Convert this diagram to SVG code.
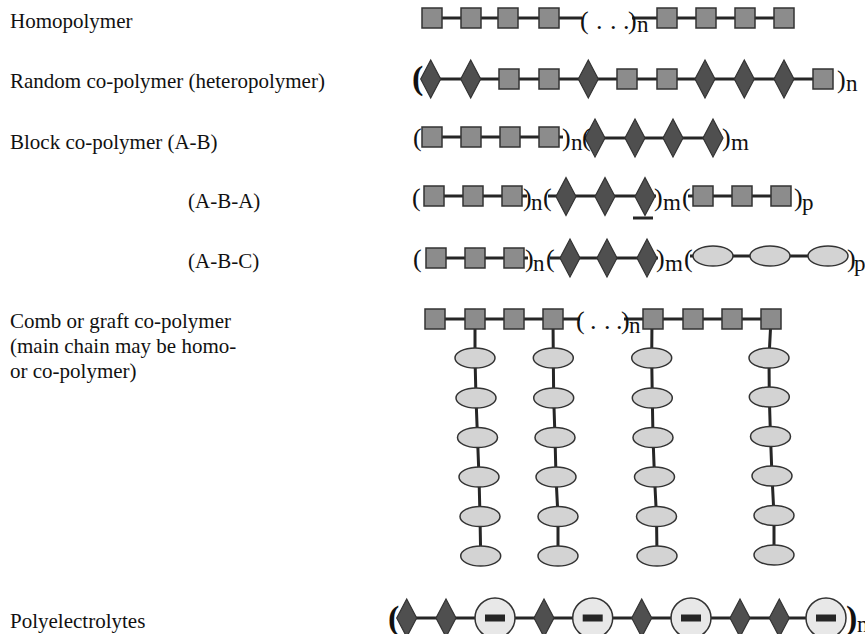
<svg xmlns="http://www.w3.org/2000/svg" width="865" height="634" viewBox="0 0 865 634">
<rect width="865" height="634" fill="#fff"/>

<g id="labels" fill="#111" font-family="Liberation Serif" font-size="21">
<text x="10" y="28" font-family="Liberation Serif" font-size="21">Homopolymer</text>
<text x="10" y="88" font-family="Liberation Serif" font-size="21">Random co-polymer (heteropolymer)</text>
<text x="10" y="149" font-family="Liberation Serif" font-size="21">Block co-polymer (A-B)</text>
<text x="188" y="208" font-family="Liberation Serif" font-size="21">(A-B-A)</text>
<text x="188" y="268" font-family="Liberation Serif" font-size="21">(A-B-C)</text>
<text x="10" y="328" font-family="Liberation Serif" font-size="21">Comb or graft co-polymer</text>
<text x="10" y="353" font-family="Liberation Serif" font-size="21">(main chain may be homo-</text>
<text x="10" y="378" font-family="Liberation Serif" font-size="21">or co-polymer)</text>
<text x="10" y="628" font-family="Liberation Serif" font-size="21">Polyelectrolytes</text>
</g>

<g id="connectors" stroke="#262626" stroke-width="3" fill="none">
<line x1="432" y1="18" x2="582" y2="18"/>
<line x1="632" y1="18" x2="784" y2="18"/>
<line x1="422" y1="79" x2="823" y2="79"/>
<line x1="432" y1="137" x2="563" y2="137"/>
<line x1="585" y1="138" x2="722" y2="138"/>
<line x1="434" y1="196" x2="527" y2="196"/>
<line x1="548" y1="196" x2="656" y2="196"/>
<line x1="688" y1="196" x2="781" y2="196"/>
<line x1="633" y1="218" x2="653" y2="218"/>
<line x1="436" y1="258" x2="528" y2="258"/>
<line x1="550" y1="258" x2="658" y2="258"/>
<line x1="690" y1="256" x2="828" y2="256"/>
<line x1="435" y1="319" x2="580" y2="319"/>
<line x1="624" y1="319" x2="771" y2="319"/>
<polyline points="475,319 475,358 476,398 477.5,437.5 479,477 480,516.5 480.7,556"/>
<polyline points="553,319 553.3,358 553.7,398 555,437.5 556,477 558,516.5 558,556"/>
<polyline points="652,319 651.7,358 652.3,398 653,437.5 654.5,477 656.5,516.5 657,556"/>
<polyline points="771,319 769,358 769.3,397 770.5,436.5 772,476 774,515.5 774,555"/>
<line x1="400" y1="618" x2="826" y2="618"/>
</g>

<g id="homopolymer">
<g fill="#8c8c8c" stroke="#333" stroke-width="1.5">
<rect x="422" y="8" width="20" height="20"/><rect x="461" y="8" width="20" height="20"/><rect x="498" y="8" width="20" height="20"/><rect x="539" y="8" width="20" height="20"/>
<rect x="657" y="8" width="20" height="20"/><rect x="696" y="8" width="20" height="20"/><rect x="735" y="8" width="20" height="20"/><rect x="774" y="8" width="20" height="20"/>
</g>
<g fill="#111">
<text x="580" y="29" font-family="Liberation Serif" font-size="26">(</text>
<text x="596" y="29" font-family="Liberation Serif" font-size="26">.</text>
<text x="610" y="29" font-family="Liberation Serif" font-size="26">.</text>
<text x="623" y="29" font-family="Liberation Serif" font-size="26">.</text>
<text x="628" y="29" font-family="Liberation Serif" font-size="26">)</text>
<text x="637" y="32" font-family="Liberation Serif" font-size="23">n</text>
</g>
</g>

<g id="random">
<g fill="#4f4f4f" stroke="#333" stroke-width="1.2">
<path d="M430.7,60 l10,19 l-10,19 l-10,-19z"/><path d="M470.7,60 l10,19 l-10,19 l-10,-19z"/>
<path d="M588.3,60 l10,19 l-10,19 l-10,-19z"/>
<path d="M705,60 l10,19 l-10,19 l-10,-19z"/><path d="M744.3,60 l10,19 l-10,19 l-10,-19z"/><path d="M784,60 l10,19 l-10,19 l-10,-19z"/>
</g>
<g fill="#8c8c8c" stroke="#333" stroke-width="1.5">
<rect x="499" y="69" width="20" height="20"/><rect x="539" y="69" width="20" height="20"/>
<rect x="617" y="69" width="20" height="20"/><rect x="657" y="69" width="20" height="20"/>
<rect x="813" y="69" width="20" height="20"/>
</g>
<g fill="#111">
<text x="412" y="89" font-family="Liberation Serif" font-size="34" font-weight="bold">(</text>
<text x="837" y="88" font-family="Liberation Serif" font-size="26">)</text>
<text x="846" y="91" font-family="Liberation Serif" font-size="23">n</text>
</g>
</g>

<g id="block-ab">
<g fill="#8c8c8c" stroke="#333" stroke-width="1.5">
<rect x="422" y="127" width="20" height="20"/><rect x="461" y="127" width="20" height="20"/><rect x="500" y="127" width="20" height="20"/><rect x="539" y="127" width="20" height="20"/>
</g>
<g fill="#4f4f4f" stroke="#333" stroke-width="1.2">
<path d="M595,119 l10,19 l-10,19 l-10,-19z"/><path d="M635,119 l10,19 l-10,19 l-10,-19z"/><path d="M673,119 l10,19 l-10,19 l-10,-19z"/><path d="M713,119 l10,19 l-10,19 l-10,-19z"/>
</g>
<g fill="#111">
<text x="413" y="146" font-family="Liberation Serif" font-size="26">(</text>
<text x="562" y="146" font-family="Liberation Serif" font-size="26">)</text>
<text x="571" y="150" font-family="Liberation Serif" font-size="23">n</text>
<text x="582" y="146" font-family="Liberation Serif" font-size="26">(</text>
<text x="722" y="146" font-family="Liberation Serif" font-size="26">)</text>
<text x="731" y="150" font-family="Liberation Serif" font-size="23">m</text>
</g>
</g>

<g id="block-aba">
<g fill="#8c8c8c" stroke="#333" stroke-width="1.5">
<rect x="424" y="186" width="20" height="20"/><rect x="463" y="186" width="20" height="20"/><rect x="502" y="186" width="20" height="20"/>
<rect x="693" y="186" width="20" height="20"/><rect x="732" y="186" width="20" height="20"/><rect x="771" y="186" width="20" height="20"/>
</g>
<g fill="#4f4f4f" stroke="#333" stroke-width="1.2">
<path d="M566,177.5 l10,19 l-10,19 l-10,-19z"/><path d="M605,177.5 l10,19 l-10,19 l-10,-19z"/><path d="M645,177.5 l10,19 l-10,19 l-10,-19z"/>
</g>
<g fill="#111">
<text x="412" y="206" font-family="Liberation Serif" font-size="26">(</text>
<text x="523" y="206" font-family="Liberation Serif" font-size="26">)</text>
<text x="531" y="210" font-family="Liberation Serif" font-size="23">n</text>
<text x="543" y="206" font-family="Liberation Serif" font-size="26">(</text>
<text x="654" y="206" font-family="Liberation Serif" font-size="26">)</text>
<text x="663" y="210" font-family="Liberation Serif" font-size="23">m</text>
<text x="682" y="206" font-family="Liberation Serif" font-size="26">(</text>
<text x="794" y="206" font-family="Liberation Serif" font-size="26">)</text>
<text x="802" y="210" font-family="Liberation Serif" font-size="23">p</text>
</g>
</g>

<g id="block-abc">
<g fill="#8c8c8c" stroke="#333" stroke-width="1.5">
<rect x="426" y="248" width="20" height="20"/><rect x="465" y="248" width="20" height="20"/><rect x="504" y="248" width="20" height="20"/>
</g>
<g fill="#4f4f4f" stroke="#333" stroke-width="1.2">
<path d="M570,239 l10,19 l-10,19 l-10,-19z"/><path d="M607,239 l10,19 l-10,19 l-10,-19z"/><path d="M647,239 l10,19 l-10,19 l-10,-19z"/>
</g>
<g fill="#d3d3d3" stroke="#333" stroke-width="1.5">
<ellipse cx="713" cy="256" rx="20" ry="10"/><ellipse cx="770" cy="256" rx="20" ry="10"/><ellipse cx="828" cy="256" rx="20" ry="10"/>
</g>
<g fill="#111">
<text x="413" y="267" font-family="Liberation Serif" font-size="26">(</text>
<text x="525" y="267" font-family="Liberation Serif" font-size="26">)</text>
<text x="533" y="271" font-family="Liberation Serif" font-size="23">n</text>
<text x="546" y="267" font-family="Liberation Serif" font-size="26">(</text>
<text x="656" y="267" font-family="Liberation Serif" font-size="26">)</text>
<text x="665" y="271" font-family="Liberation Serif" font-size="23">m</text>
<text x="684" y="267" font-family="Liberation Serif" font-size="26">(</text>
<text x="847" y="267" font-family="Liberation Serif" font-size="26">)</text>
<text x="854" y="271" font-family="Liberation Serif" font-size="23">p</text>
</g>
</g>

<g id="comb">
<g fill="#8c8c8c" stroke="#333" stroke-width="1.5">
<rect x="425" y="309" width="20" height="20"/><rect x="465" y="309" width="20" height="20"/><rect x="504" y="309" width="20" height="20"/><rect x="543" y="309" width="20" height="20"/>
<rect x="643" y="309" width="20" height="20"/><rect x="683" y="309" width="20" height="20"/><rect x="722" y="309" width="20" height="20"/><rect x="761" y="309" width="20" height="20"/>
</g>
<g fill="#111">
<text x="576" y="329" font-family="Liberation Serif" font-size="26">(</text>
<text x="590" y="329" font-family="Liberation Serif" font-size="26">.</text>
<text x="604" y="329" font-family="Liberation Serif" font-size="26">.</text>
<text x="616" y="329" font-family="Liberation Serif" font-size="26">.</text>
<text x="621" y="329" font-family="Liberation Serif" font-size="26">)</text>
<text x="629" y="333" font-family="Liberation Serif" font-size="23">n</text>
</g>
<g fill="#d3d3d3" stroke="#333" stroke-width="1.5">
<ellipse cx="475" cy="358" rx="20" ry="10"/><ellipse cx="476" cy="398" rx="20" ry="10"/><ellipse cx="477.5" cy="437.5" rx="20" ry="10"/><ellipse cx="479" cy="477" rx="20" ry="10"/><ellipse cx="480" cy="516.5" rx="20" ry="10"/><ellipse cx="480.7" cy="556" rx="20" ry="10"/>
<ellipse cx="553.3" cy="358" rx="20" ry="10"/><ellipse cx="553.7" cy="398" rx="20" ry="10"/><ellipse cx="555" cy="437.5" rx="20" ry="10"/><ellipse cx="556" cy="477" rx="20" ry="10"/><ellipse cx="558" cy="516.5" rx="20" ry="10"/><ellipse cx="558" cy="556" rx="20" ry="10"/>
<ellipse cx="651.7" cy="358" rx="20" ry="10"/><ellipse cx="652.3" cy="398" rx="20" ry="10"/><ellipse cx="653" cy="437.5" rx="20" ry="10"/><ellipse cx="654.5" cy="477" rx="20" ry="10"/><ellipse cx="656.5" cy="516.5" rx="20" ry="10"/><ellipse cx="657" cy="556" rx="20" ry="10"/>
<ellipse cx="769" cy="358" rx="20" ry="10"/><ellipse cx="769.3" cy="397" rx="20" ry="10"/><ellipse cx="770.5" cy="436.5" rx="20" ry="10"/><ellipse cx="772" cy="476" rx="20" ry="10"/><ellipse cx="774" cy="515.5" rx="20" ry="10"/><ellipse cx="774" cy="555" rx="20" ry="10"/>
</g>
</g>

<g id="polyelectrolyte">
<g fill="#4f4f4f" stroke="#333" stroke-width="1.2">
<path d="M406.7,599 l10,19 l-10,19 l-10,-19z"/><path d="M446,599 l10,19 l-10,19 l-10,-19z"/>
<path d="M544,599 l10,19 l-10,19 l-10,-19z"/><path d="M641.7,599 l10,19 l-10,19 l-10,-19z"/>
<path d="M740,599 l10,19 l-10,19 l-10,-19z"/><path d="M779.3,599 l10,19 l-10,19 l-10,-19z"/>
</g>
<g fill="#e8e8e8" stroke="#333" stroke-width="1.5">
<circle cx="495" cy="618" r="20"/><circle cx="592.7" cy="618" r="20"/><circle cx="691" cy="618" r="20"/><circle cx="826" cy="618" r="20"/>
</g>
<g fill="#262626">
<rect x="485" y="614.5" width="20" height="7"/><rect x="582.7" y="614.5" width="20" height="7"/><rect x="681" y="614.5" width="20" height="7"/><rect x="816" y="614.5" width="20" height="7"/>
</g>
<g fill="#111">
<text x="388" y="629" font-family="Liberation Serif" font-size="34" font-weight="bold">(</text>
<text x="846" y="629" font-family="Liberation Serif" font-size="34" font-weight="bold">)</text>
<text x="857" y="632" font-family="Liberation Serif" font-size="23">n</text>
</g>
</g>
</svg>
